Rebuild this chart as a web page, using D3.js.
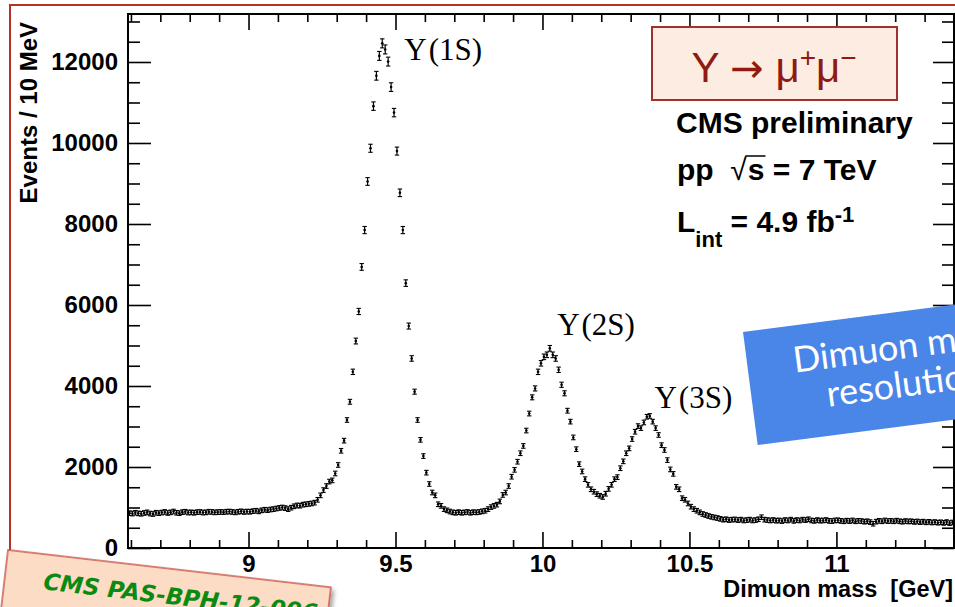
<!DOCTYPE html>
<html lang="en">
<head>
<meta charset="UTF-8">
<title>Dimuon mass spectrum</title>
<script src="https://cdn.jsdelivr.net/npm/d3@7"></script>
<style>
  body { margin: 0; background: #fff; }
  svg { display: block; font-family: "Liberation Sans", Arial, Helvetica, sans-serif; }
</style>
</head>
<body>
<svg id="chart"></svg>
<script>
// bins of 10 MeV, first bin centre at 8.595 GeV
const binStart = 8.595
const binWidth = 0.01

// events per bin
const bgLow = [
  860, 850, 870, 855, 845, 865, 880, 850, 840, 870, 860,
  875, 890, 865, 880, 900, 870, 860, 885, 895, 875,
  880, 870, 885, 890, 875, 880, 895, 890, 880, 885,
  890, 885, 895, 900, 890, 880, 895, 905, 890, 900,
  895, 910, 920, 905, 930, 945, 935, 950, 960, 975,
  990, 1000, 985, 960, 995, 1030, 1050, 1045, 1070, 1080,
  1090, 1100, 1120, 1190
]
const peak1S = [
  1300, 1430, 1530, 1640, 1670, 1840, 2050, 2400, 2650, 3160,
  3610, 4350, 5110, 5840, 6940, 7850, 9050, 9870, 10910, 11660,
  12150, 12460, 12310, 12010, 11380, 10750, 9800, 8770, 7850, 6540,
  5480, 4680, 3860, 3160, 2670, 2270, 1860, 1580, 1370, 1300,
  1080, 1040, 960
]
const valley12 = [
  930, 900, 880, 870, 885, 870, 880, 890, 870, 885,
  880, 890, 905, 920, 960, 1010, 1040, 1070, 1150
]
const peak2S = [
  1310, 1370, 1530, 1760, 1930, 2130, 2340, 2520, 2900, 3320,
  3720, 3940, 4350, 4560, 4720, 4770, 4930, 4770, 4680, 4400,
  4030, 3820, 3390, 3120, 2730, 2440, 2070, 1890, 1700, 1560,
  1450, 1390, 1330, 1290
]
const peak3S = [
  1260, 1340, 1460, 1560, 1700, 1750, 1970, 2140, 2340, 2460,
  2690, 2870, 3010, 2960, 3100, 3240, 3260, 3120, 2960, 2790,
  2540, 2420, 2170, 1940, 1830, 1510, 1450, 1230, 1190, 1100,
  1020, 960, 920, 880, 840, 815, 790, 770, 755, 740
]
const bgHigh = [
  720, 700, 710, 690, 700, 705, 690, 700, 680, 690,
  700, 680, 690, 710, 760, 700, 690, 680, 690, 675,
  680, 665, 690, 680, 700, 670, 690, 680, 700, 690,
  710, 680, 670, 690, 675, 680, 690, 670, 665, 680,
  685, 670, 660, 675, 665, 680, 660, 670, 665, 650,
  660, 640, 600, 650, 670, 660, 680, 665, 670, 660,
  675, 660, 650, 665, 655, 660, 645, 655, 640, 650,
  635, 645, 630, 640, 625, 635, 620, 640, 615, 630
]

const xTicksMajor = [9, 9.5, 10, 10.5, 11]
const yTicksMajor = [0, 2000, 4000, 6000, 8000, 10000, 12000]
const peakNames = ["1S", "2S", "3S"]
const peakLabelMass = [9.53, 10.05, 10.381]
const peakLabelValue = [12050, 5260, 3460]

const counts = [].concat(bgLow, peak1S, valley12, peak2S, peak3S, bgHigh)
const points = counts.map((v, i) => ({ m: binStart + i * binWidth, v: v }))

const width = 955, height = 607
const plotLeft = 128, plotRight = 954, plotTop = 14, plotBottom = 548

const svg = d3.select("#chart").attr("width", width).attr("height", height)

const x = d3.scaleLinear().domain([8.59, 11.40]).range([plotLeft, plotRight])
const y = d3.scaleLinear().domain([0, 13185]).range([plotBottom, plotTop])

// outer red slide frame
svg.append("rect")
  .attr("x", 10).attr("y", 5).attr("width", 1000).attr("height", 700)
  .attr("fill", "none").attr("stroke", "#b3322a").attr("stroke-width", 2)

// axes: major + minor ticks on all four sides, pointing inwards
const minorX = d3.range(8.6, 11.41, 0.1).filter(v => !xTicksMajor.some(t => Math.abs(t - v) < 1e-6))
const minorY = d3.range(500, 13200, 500).filter(v => v % 2000 !== 0)

function styleAxis(sel) {
  sel.select(".domain").remove()
  sel.selectAll(".tick line").attr("stroke", "#000").attr("stroke-width", 1.6)
  sel.selectAll(".tick text")
    .attr("fill", "#000")
    .style("font-size", "24px")
    .style("font-weight", "bold")
    .style("font-family", "'Liberation Sans', Arial, sans-serif")
}

svg.append("g").attr("transform", `translate(0,${plotBottom})`)
  .call(d3.axisBottom(x).tickValues(xTicksMajor).tickSize(-16).tickPadding(7).tickFormat(d3.format("")))
  .call(styleAxis)
svg.append("g").attr("transform", `translate(0,${plotBottom})`)
  .call(d3.axisBottom(x).tickValues(minorX).tickSize(-8).tickFormat(""))
  .call(styleAxis)
svg.append("g").attr("transform", `translate(0,${plotTop})`)
  .call(d3.axisTop(x).tickValues(xTicksMajor).tickSize(-16).tickFormat(""))
  .call(styleAxis)
svg.append("g").attr("transform", `translate(0,${plotTop})`)
  .call(d3.axisTop(x).tickValues(minorX).tickSize(-8).tickFormat(""))
  .call(styleAxis)

svg.append("g").attr("transform", `translate(${plotLeft},0)`)
  .call(d3.axisLeft(y).tickValues(yTicksMajor).tickSize(-23).tickPadding(10).tickFormat(d3.format("d")))
  .call(styleAxis)
svg.append("g").attr("transform", `translate(${plotLeft},0)`)
  .call(d3.axisLeft(y).tickValues(minorY).tickSize(-12).tickFormat(""))
  .call(styleAxis)
svg.append("g").attr("transform", `translate(${plotRight},0)`)
  .call(d3.axisRight(y).tickValues(yTicksMajor).tickSize(-21).tickFormat(""))
  .call(styleAxis)
svg.append("g").attr("transform", `translate(${plotRight},0)`)
  .call(d3.axisRight(y).tickValues(minorY).tickSize(-12).tickFormat(""))
  .call(styleAxis)

// plot frame
svg.append("rect")
  .attr("x", plotLeft).attr("y", plotTop).attr("width", plotRight - plotLeft).attr("height", plotBottom - plotTop)
  .attr("fill", "none").attr("stroke", "#000").attr("stroke-width", 2)

// axis titles
svg.append("text")
  .attr("x", 953).attr("y", 597)
  .attr("text-anchor", "end")
  .style("font-size", "23.5px").style("font-weight", "bold").style("white-space", "pre")
  .text("Dimuon mass  [GeV]")
svg.append("text")
  .attr("transform", "translate(37,22) rotate(-90)")
  .attr("text-anchor", "end")
  .style("font-size", "24px").style("font-weight", "bold")
  .text("Events / 10 MeV")

// data points with error bars
const pts = svg.append("g").selectAll("g")
  .data(points)
  .join("g")
  .attr("transform", d => `translate(${x(d.m)},${y(d.v)})`)
const half = d => Math.max(2.3, y(d.v - Math.sqrt(d.v)) - y(d.v))
pts.append("line")
  .attr("y1", d => -half(d)).attr("y2", d => half(d))
  .attr("stroke", "#000").attr("stroke-width", 1.2)
pts.append("line")
  .attr("x1", -2.2).attr("x2", 2.2).attr("y1", d => -half(d)).attr("y2", d => -half(d))
  .attr("stroke", "#000").attr("stroke-width", 1.1)
pts.append("line")
  .attr("x1", -2.2).attr("x2", 2.2).attr("y1", d => half(d)).attr("y2", d => half(d))
  .attr("stroke", "#000").attr("stroke-width", 1.1)
pts.append("circle").attr("r", 1.3).attr("fill", "#000")

// peak labels
peakNames.forEach((name, i) => {
  const t = svg.append("text")
    .attr("x", x(peakLabelMass[i])).attr("y", y(peakLabelValue[i]))
    .style("font-family", "'Liberation Serif', 'Times New Roman', serif")
    .style("font-size", "31px")
  t.append("tspan").text("\u03A5")
  t.append("tspan").attr("dx", 2).text("(" + name + ")")
})

// decay box
svg.append("rect")
  .attr("x", 652).attr("y", 27).attr("width", 245).attr("height", 73)
  .attr("fill", "#fdece2").attr("stroke", "#a3302a").attr("stroke-width", 2)
const decay = svg.append("text")
  .attr("x", 774).attr("y", 82)
  .attr("text-anchor", "middle")
  .attr("fill", "#8e1a12")
  .style("font-size", "42px").style("white-space", "pre")
decay.append("tspan").text("\u03A5 ")
decay.append("tspan").style("font-family", "'DejaVu Sans', sans-serif").style("font-size", "40px").text("\u2192")
decay.append("tspan").text(" \u03BC")
decay.append("tspan").attr("dy", -15).style("font-size", "28px").text("+")
decay.append("tspan").attr("dy", 15).text("\u03BC")
decay.append("tspan").attr("dy", -15).style("font-size", "28px").text("\u2212")

// CMS text block
svg.append("text")
  .attr("x", 676).attr("y", 133)
  .style("font-size", "30px").style("font-weight", "bold")
  .text("CMS preliminary")

const energy = svg.append("text")
  .attr("x", 677).attr("y", 180)
  .style("font-size", "30px").style("font-weight", "bold").style("white-space", "pre")
energy.append("tspan").text("pp  ")
energy.append("tspan").style("font-weight", "normal").text("\u221A")
energy.append("tspan").attr("dx", 1).text("s = 7 TeV")
const en = energy.node()
const rootBox = en.getExtentOfChar(4)
const sBox = en.getExtentOfChar(5)
svg.append("line")
  .attr("x1", rootBox.x + rootBox.width - 1.5).attr("x2", sBox.x + sBox.width + 1)
  .attr("y1", 156).attr("y2", 156)
  .attr("stroke", "#000").attr("stroke-width", 1.5)

const lumi = svg.append("text")
  .attr("x", 677).attr("y", 232)
  .style("font-size", "30px").style("font-weight", "bold").style("white-space", "pre")
lumi.append("tspan").text("L")
lumi.append("tspan").attr("dy", 15).style("font-size", "22px").text("int")
lumi.append("tspan").attr("dy", -15).text(" = 4.9 fb")
lumi.append("tspan").attr("dy", -10).style("font-size", "22px").text("-1")

// blue call-out (cut off at the edge)
const callout = svg.append("g").attr("transform", "translate(743,332) rotate(-7.4)")
callout.append("rect")
  .attr("x", 0).attr("y", 0).attr("width", 330).attr("height", 114)
  .attr("fill", "#4a86e8")
callout.append("text")
  .attr("x", 46).attr("y", 47)
  .attr("fill", "#fff")
  .style("font-family", "Lato, 'Open Sans', sans-serif").style("font-size", "36px")
  .text("Dimuon mass")
callout.append("text")
  .attr("x", 75).attr("y", 85)
  .attr("fill", "#fff")
  .style("font-family", "Lato, 'Open Sans', sans-serif").style("font-size", "36px")
  .text("resolution")

// reference sticker
const defs = svg.append("defs")
defs.append("filter").attr("id", "shadow").attr("x", "-10%").attr("y", "-20%").attr("width", "130%").attr("height", "150%")
  .append("feDropShadow").attr("dx", 3).attr("dy", 3).attr("stdDeviation", 2)
  .attr("flood-color", "#000").attr("flood-opacity", 0.35)
const sticker = svg.append("g").attr("transform", "translate(8,550) rotate(6.6)")
sticker.append("rect")
  .attr("x", 0).attr("y", 0).attr("width", 325).attr("height", 70)
  .attr("fill", "#fcdcc5").attr("stroke", "#c9594f").attr("stroke-width", 1.5)
  .attr("filter", "url(#shadow)")
sticker.append("text")
  .attr("x", 39).attr("y", 35)
  .attr("fill", "#0b8a12")
  .style("font-family", "'Comic Sans MS', 'DejaVu Sans', sans-serif")
  .style("font-size", "23px").style("font-weight", "bold").style("font-style", "italic")
  .text("CMS PAS-BPH-12-006")
</script>
</body>
</html>
